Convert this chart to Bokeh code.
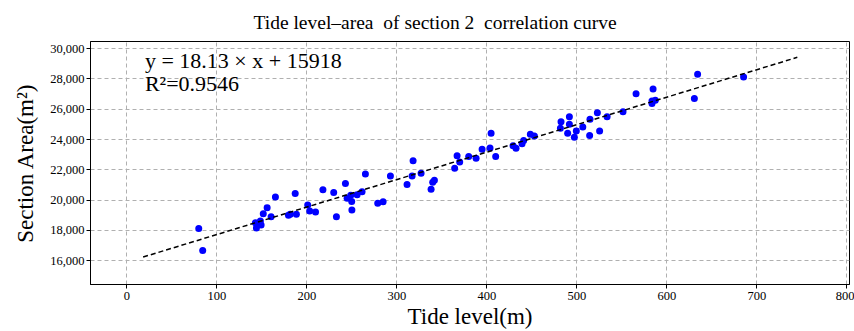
from bokeh.plotting import figure
from bokeh.models import Range1d, FixedTicker, NumeralTickFormatter, Label, ColumnDataSource
from bokeh.embed import file_html
from bokeh.resources import INLINE

# ---- data ----
tide_level = [79.8, 84.2, 142.8, 143.9, 148.3, 149.1, 151.5, 155.8, 160.2, 165.0,
              179.5, 181.5, 187.0, 188.3, 200.9, 203.1, 209.6, 217.8, 229.8, 232.8,
              242.8, 244.7, 248.7, 249.8, 250.0, 255.8, 261.3, 265.0, 278.7, 284.7,
              292.8, 311.3, 316.9, 318.0, 326.9, 338.0, 339.8, 341.7, 364.2, 366.9,
              369.8, 379.8, 388.0, 394.7, 403.5, 404.7, 409.8, 429.1, 432.4, 439.1,
              440.9, 448.3, 452.8, 481.7, 482.4, 489.8, 491.7, 491.7, 497.2, 499.4,
              506.6, 514.2, 514.6, 522.8, 525.3, 533.6, 551.3, 565.8, 583.5, 583.5,
              584.7, 587.2, 630.6, 634.2, 685.3]
section_area = [18120, 16680, 18510, 18160, 18620, 18360, 19100, 19500, 18900, 20200,
                19000, 19060, 20440, 19060, 19670, 19280, 19210, 20680, 20500, 18900,
                21100, 20130, 20320, 19910, 19350, 20350, 20550, 21720, 19790, 19890,
                21590, 21030, 21590, 22600, 21770, 20710, 21180, 21310, 22110, 22930,
                22510, 22880, 22770, 23360, 23440, 24410, 22880, 23590, 23430, 23720,
                23930, 24350, 24240, 24740, 25180, 24410, 25000, 25510, 24150, 24570,
                24820, 24260, 25330, 25770, 24560, 25510, 25840, 27020, 26540, 26380,
                27340, 26600, 26710, 28310, 28130]

fit_slope = 18.13
fit_intercept = 15918
fit_r2 = 0.9546
fit_x = [18, 745]
fit_y = [fit_slope * v + fit_intercept for v in fit_x]

x_ticks = [0, 100, 200, 300, 400, 500, 600, 700, 800]
y_ticks = [16000, 18000, 20000, 22000, 24000, 26000, 28000, 30000]

title_text = "Tide level\u2013area\u00a0 of section 2\u00a0 correlation curve"
x_label = "Tide level(m)"
y_label = "Section Area(m\u00b2)"
eq_text = "y = 18.13 \u00d7 x + 15918"
r2_text = "R\u00b2=0.9546"

FONT = "Liberation Serif"

p = figure(width=854, height=331, output_backend="svg", toolbar_location=None,
           x_range=Range1d(-40.5, 803), y_range=Range1d(14430, 30470),
           min_border_left=90, min_border_right=5, min_border_top=39, min_border_bottom=47,
           background_fill_color="white", border_fill_color="white")

p.title.text = title_text
p.title.text_font = FONT
p.title.text_font_size = "19.5px"
p.title.text_font_style = "normal"
p.title.align = "left"
p.title.offset = 163
p.title.standoff = 18
p.title.text_color = "black"

p.outline_line_color = "black"
p.outline_line_width = 1
p.outline_line_alpha = 1

for ax in (p.xaxis[0], p.yaxis[0]):
    ax.axis_line_color = "black"
    ax.major_tick_line_color = "black"
    ax.major_tick_in = 0
    ax.major_tick_out = 4
    ax.minor_tick_line_color = None
    ax.major_label_text_font = FONT
    ax.major_label_text_font_size = "12.5px"
    ax.major_label_text_color = "black"
    ax.axis_label_text_font = FONT
    ax.axis_label_text_font_size = "23px"
    ax.axis_label_text_font_style = "normal"
    ax.axis_label_text_color = "black"

p.xaxis.ticker = FixedTicker(ticks=x_ticks)
p.yaxis.ticker = FixedTicker(ticks=y_ticks)
p.yaxis.formatter = NumeralTickFormatter(format="0,0")
p.xaxis.axis_label = x_label
p.yaxis.axis_label = y_label
p.xaxis.major_label_standoff = 3
p.xaxis.axis_label_standoff = 1
p.yaxis.major_label_standoff = 2
p.yaxis.axis_label_standoff = 9

p.xgrid.ticker = FixedTicker(ticks=x_ticks)
p.ygrid.ticker = FixedTicker(ticks=y_ticks)
for g in (p.xgrid[0], p.ygrid[0]):
    g.grid_line_color = "#b0b0b0"
    g.grid_line_dash = "4 3"
    g.grid_line_width = 1

src = ColumnDataSource(dict(x=tide_level, y=section_area))
p.scatter("x", "y", source=src, size=7, fill_color="#0000ff", line_color=None)

p.line(fit_x, fit_y, line_color="black", line_dash="5 3", line_width=1.5)

p.add_layout(Label(x=20, y=29245, text=eq_text, text_font=FONT, text_font_size="22px",
                   text_baseline="middle", text_color="black"))
p.add_layout(Label(x=20, y=27671, text=r2_text, text_font=FONT, text_font_size="22px",
                   text_baseline="middle", text_color="black"))

open("out.html", "w").write(file_html(p, INLINE))
